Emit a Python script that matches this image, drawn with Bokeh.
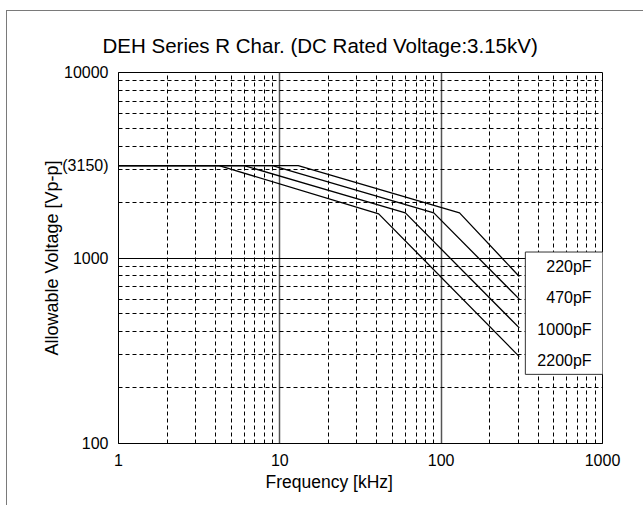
from bokeh.plotting import figure
from bokeh.models import FixedTicker, Grid, PrintfTickFormatter, Label, Title
from bokeh.embed import file_html
from bokeh.resources import INLINE

# ---- data ----
capacitances = ["220pF", "470pF", "1000pF", "2200pF"]
freq_220 = [1, 13, 130, 305]
volt_220 = [3150, 3150, 1750, 795]
freq_470 = [1, 9, 90, 305]
volt_470 = [3150, 3150, 1750, 600]
freq_1000 = [1, 6, 60, 305]
volt_1000 = [3150, 3150, 1750, 420]
freq_2200 = [1, 4.2, 41, 305]
volt_2200 = [3150, 3150, 1730, 294]
x_ticks = [1, 10, 100, 1000]
y_ticks = [100, 1000, 3150, 10000]
y_tick_overrides = {3150: "(3150)"}

FONT = "Liberation Sans"

p = figure(width=636, height=494, x_axis_type="log", y_axis_type="log",
           x_range=(1, 1000), y_range=(100, 10000),
           output_backend="svg", toolbar_location=None,
           min_border_left=111, min_border_right=41,
           min_border_top=61, min_border_bottom=62)
p.styles = {"margin-left": "7px", "margin-top": "11px", "outline": "1px solid #7a7a7a"}

p.title.text = "DEH Series R Char. (DC Rated Voltage:3.15kV)"
p.title.text_font = FONT
p.title.text_font_size = "20.5px"
p.title.text_font_style = "normal"
p.title.text_color = "black"
p.title.align = "left"
p.title.offset = -16
p.title.standoff = 32

p.outline_line_color = "black"
p.outline_line_width = 1

for ax in (p.xaxis[0], p.yaxis[0]):
    ax.major_tick_in = 0
    ax.major_tick_out = 0
    ax.minor_tick_line_color = None
    ax.axis_line_color = "black"
    ax.major_label_text_font = FONT
    ax.major_label_text_font_size = "16px"
    ax.major_label_text_color = "black"
    ax.axis_label_text_font = FONT
    ax.axis_label_text_font_size = "18px"
    ax.axis_label_text_font_style = "normal"
    ax.axis_label_text_color = "black"
    ax.major_label_standoff = 10

p.xaxis[0].ticker = FixedTicker(ticks=x_ticks)
p.xaxis[0].formatter = PrintfTickFormatter(format="%d")

p.yaxis[0].ticker = FixedTicker(ticks=y_ticks)
p.yaxis[0].formatter = PrintfTickFormatter(format="%d")
p.yaxis[0].major_label_overrides = y_tick_overrides
p.yaxis[0].axis_label = "Allowable Voltage [Vp-p]"
p.yaxis[0].axis_label_standoff = -3

# x-axis title (in the reference it sits left of the frame centre)
p.add_layout(Title(text="Frequency [kHz]", align="left", offset=147, standoff=2,
                   text_font=FONT, text_font_size="17.5px",
                   text_font_style="normal", text_color="black"), "below")

# major grid lines
p.xgrid[0].ticker = FixedTicker(ticks=[10, 100])
p.xgrid[0].grid_line_color = "#555555"
p.xgrid[0].grid_line_width = 1.5
p.ygrid[0].ticker = FixedTicker(ticks=[1000])
p.ygrid[0].grid_line_color = "black"
p.ygrid[0].grid_line_width = 1

# minor (dashed) grid lines at 2..9 of each decade
minor_x = [m * 10 ** d for d in range(0, 3) for m in range(2, 10)]
minor_y = [m * 10 ** d for d in range(2, 4) for m in range(2, 10)]
p.add_layout(Grid(dimension=0, ticker=FixedTicker(ticks=minor_x),
                  grid_line_color="black", grid_line_width=1, grid_line_dash="4 3"))
p.add_layout(Grid(dimension=1, ticker=FixedTicker(ticks=minor_y),
                  grid_line_color="black", grid_line_width=1, grid_line_dash="4 3"))

series = [(freq_220, volt_220), (freq_470, volt_470),
          (freq_1000, volt_1000), (freq_2200, volt_2200)]
for fx, vy in series:
    p.line(fx, vy, line_color="black", line_width=1.3)

# boxed list of capacitance values (box reaches a little past the frame)
p.add_layout(Label(x=1172, y=1077, text="\n".join(capacitances),
                   text_align="right", text_baseline="top",
                   text_font=FONT, text_font_size="16px", text_color="black",
                   text_line_height=1.85, level="overlay",
                   background_fill_color="white", background_fill_alpha=1,
                   border_line_color="#333333", border_line_width=1,
                   padding={"left": 12, "right": 22, "top": 6, "bottom": 5}))

open("out.html", "w").write(file_html(p, INLINE))
